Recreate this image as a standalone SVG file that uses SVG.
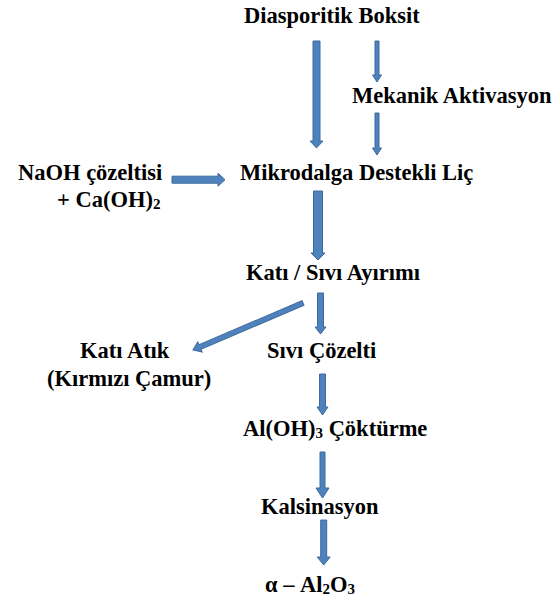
<svg xmlns="http://www.w3.org/2000/svg" width="556" height="600" viewBox="0 0 556 600">
<style>
.t{font-family:"Liberation Serif","Times New Roman",serif;font-weight:bold;font-size:22.5px;fill:#000}
.a{fill:#4F81BD;stroke:#3B6C9F;stroke-width:1}
</style>
<rect width="556" height="600" fill="#fff"/>
<g id="connectors">
<path class="a" d="M313,41 H320 V141 H323 L316.5,148 L310,141 H313 Z"/>
<path class="a" d="M375,41 H379 V75 H381.5 L377,82 L372.5,75 H375 Z"/>
<path class="a" d="M375,113 H379 V148 H381.5 L377,155 L372.5,148 H375 Z"/>
<path class="a" d="M172,176.2 H218 V173.2 L225,179.7 L218,186.2 V183.2 H172 Z"/>
<path class="a" d="M313.5,191 H322.5 V253 H325 L318,260 L311,253 H313.5 Z"/>
<path class="a" d="M317.5,293 H323.5 V327 H326 L320.5,334 L315,327 H317.5 Z"/>
<path class="a" transform="translate(303,303) rotate(156.9)" d="M0,-2.5 H112 V-5.5 L119.6,0 L112,5.5 V2.5 H0 Z"/>
<path class="a" d="M319.5,374 H325.5 V407 H328 L322.5,415 L317,407 H319.5 Z"/>
<path class="a" d="M320,452 H325 V488 H329 L322.5,498 L316,488 H320 Z"/>
<path class="a" d="M320.7,520 H326.7 V557 H330.2 L323.7,565 L317.2,557 H320.7 Z"/>
</g>
<g id="n1"><text class="t" x="244" y="23">Diasporitik Boksit</text></g>
<g id="n2"><text class="t" x="352" y="103">Mekanik Aktivasyon</text></g>
<g id="n3"><text class="t" x="18" y="180">NaOH çözeltisi</text><text class="t" x="57" y="207">+ Ca(OH)<tspan font-size="15" dy="2">2</tspan></text></g>
<g id="n4"><text class="t" x="240" y="180">Mikrodalga Destekli Liç</text></g>
<g id="n5"><text class="t" x="246" y="280">Katı / Sıvı Ayırımı</text></g>
<g id="n6"><text class="t" x="80" y="358">Katı Atık</text><text class="t" x="47" y="386">(Kırmızı Çamur)</text></g>
<g id="n7"><text class="t" x="267" y="358">Sıvı Çözelti</text></g>
<g id="n8"><text class="t" x="243" y="436">Al(OH)<tspan font-size="15" dy="2">3</tspan><tspan dy="-2"> Çöktürme</tspan></text></g>
<g id="n9"><text class="t" x="261" y="514">Kalsinasyon</text></g>
<g id="n10"><text class="t" x="265" y="592">α – Al<tspan font-size="15" dy="2">2</tspan><tspan dy="-2">O</tspan><tspan font-size="15" dy="2">3</tspan></text></g>
</svg>
